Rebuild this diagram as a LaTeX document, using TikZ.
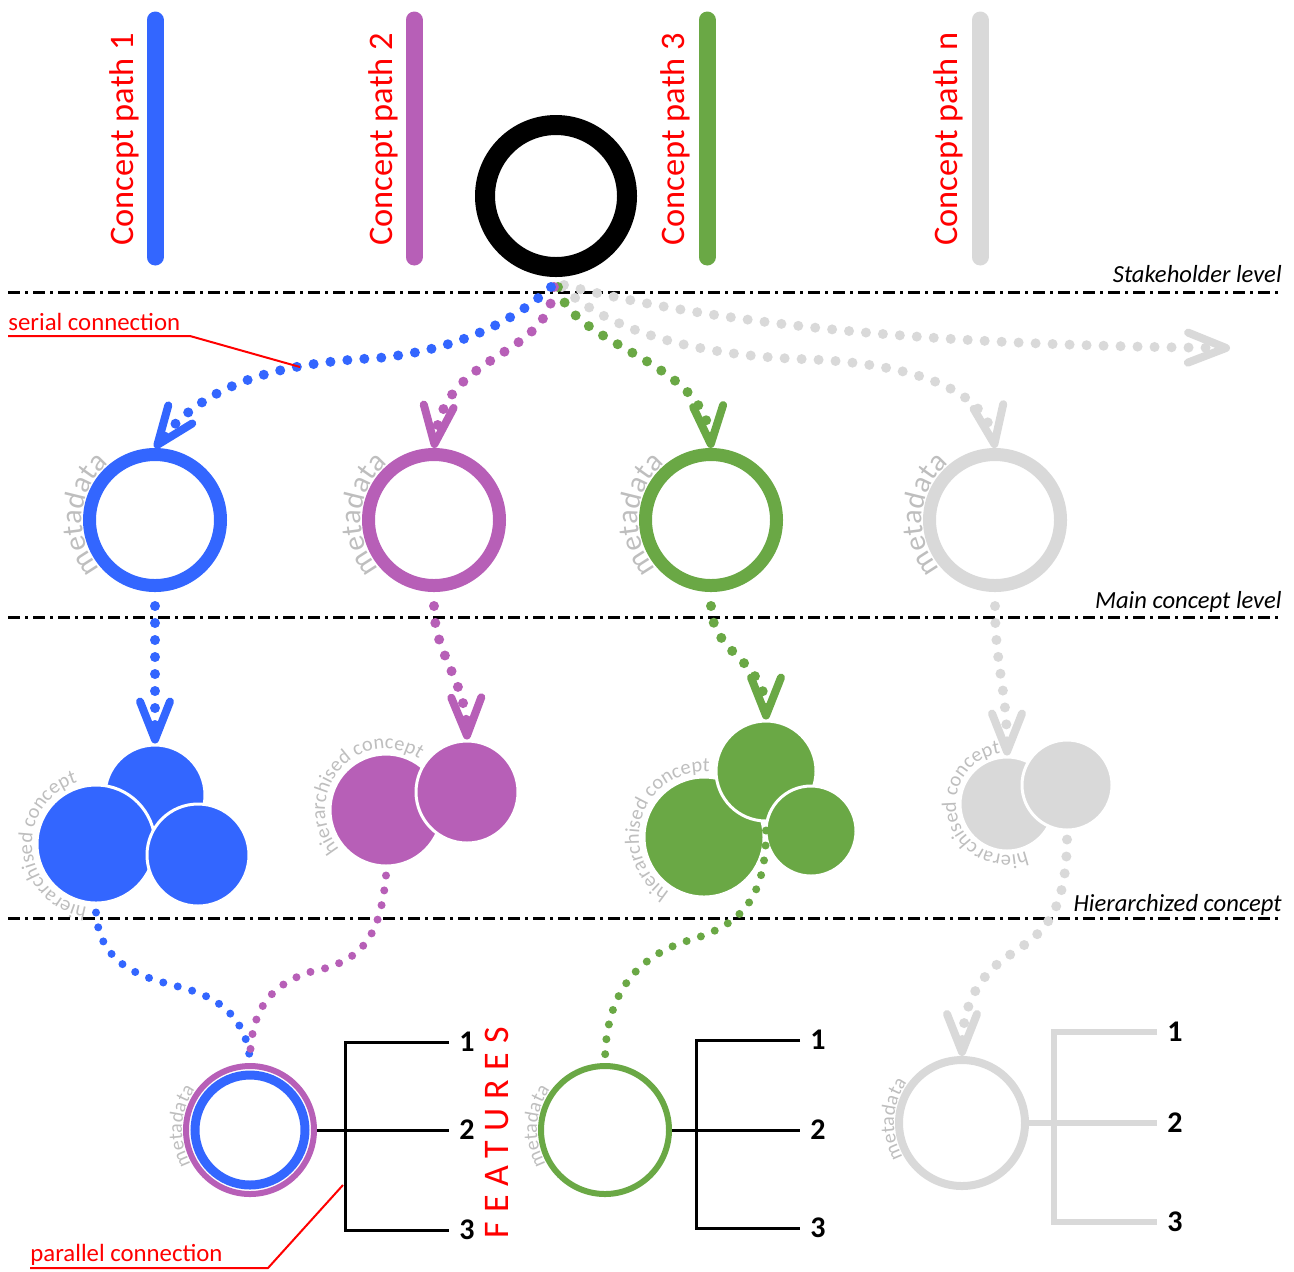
\documentclass[tikz,border=0pt]{standalone}
\usepackage{fontspec}
\setmainfont{Carlito}
\usetikzlibrary{arrows.meta,decorations.text,backgrounds}

\definecolor{cblue}{RGB}{51,102,255}
\definecolor{cpurple}{RGB}{183,95,183}
\definecolor{cgreen}{RGB}{106,168,69}
\definecolor{cgray}{RGB}{217,217,217}
\definecolor{lblgray}{RGB}{190,190,190}
\definecolor{cred}{RGB}{255,0,0}

\begin{document}
\begin{tikzpicture}[x=0.5pt,y=-0.5pt,
  bar/.style={line width=8.5pt,line cap=round},
  pathlabel/.style={rotate=90,anchor=base west,inner sep=0pt,text=cred,
    font=\fontsize{17.2}{20}\selectfont},
  levelline/.style={line width=1.5pt,dash pattern=on 6pt off 2.5pt on 1.5pt off 2.5pt},
  levellabel/.style={anchor=base east,inner sep=0pt,font=\itshape\fontsize{12.3}{15}\selectfont},
  mring/.style={circle,inner sep=0pt,line width=6.5pt,minimum size=65.5pt},
  fring/.style={circle,inner sep=0pt},
  blob/.style={circle,inner sep=0pt,draw=white,line width=1.5pt},
  dots/.style={line width=5pt,line cap=round,dash pattern=on 0pt off 8.5pt},
  sdots/.style={line width=4pt,line cap=round,dash pattern=on 0pt off 7.5pt},
  vtip/.style={-{Straight Barb[length=19pt,width=15pt,line width=4pt,round]}},
  meta/.style={decorate,decoration={text along path,text align=left,
    text={|\color{lblgray}\fontsize{15}{18}\selectfont|metadata}}},
  smeta/.style={decorate,decoration={text along path,text align=left,
    text={|\color{lblgray}\fontsize{10}{12}\selectfont|metadata}}},
  hier/.style={decorate,decoration={text along path,text align=left,
    text={|\color{lblgray}\fontsize{10.2}{12}\selectfont|hierarchised concept}}},
  bracket/.style={line width=1.5pt},
  num/.style={font=\bfseries\fontsize{15}{18}\selectfont,inner sep=5pt,anchor=west},
  redlbl/.style={text=cred,font=\fontsize{12.4}{15}\selectfont,inner sep=0pt,anchor=base west},
  redline/.style={cred,line width=1pt},
]
\useasboundingbox (0,0) rectangle (1294,1271);

% concept path bars and their labels
\draw[bar,cblue]   (155,20) -- (155,257);
\draw[bar,cpurple] (414,20) -- (414,257);
\draw[bar,cgreen]  (707,20) -- (707,257);
\draw[bar,cgray]   (980,20) -- (980,257);
\node[pathlabel] (lbl1) at (133,246) {Concept path 1};
\node[pathlabel] (lbl2) at (392,246) {Concept path 2};
\node[pathlabel] (lbl3) at (684,246) {Concept path 3};
\node[pathlabel] (lbln) at (957,246) {Concept path n};

% stakeholder
\node[circle,draw=black,line width=10pt,minimum size=71pt,inner sep=0pt] (stake) at (556,196) {};

% level separators
\draw[levelline] (8,292) -- (1282,292);
\draw[levelline] (8,617) -- (1282,617);
\draw[levelline] (8,918) -- (1282,918);
\node[levellabel] (lvl1) at (1282,282) {Stakeholder level};
\node[levellabel] (lvl2) at (1282,608) {Main concept level};
\node[levellabel] (lvl3) at (1282,911) {Hierarchized concept};

% main concepts
\node[mring,draw=cblue]   (m1) at (155,520) {};
\node[mring,draw=cpurple] (m2) at (434,520) {};
\node[mring,draw=cgreen]  (m3) at (711,520) {};
\node[mring,draw=cgray]   (m4) at (995,520) {};
\coordinate (cont) at (1230,348);

% serial connections from the stakeholder
\draw[dots,vtip,cgray] ([xshift=4pt,yshift=-4pt]stake.south)
  .. controls (700,320) and (900,345) .. (cont);
\draw[dots,vtip,cgray] ([xshift=3pt,yshift=-5pt]stake.south)
  .. controls (620,340) and (720,356) .. (800,359)
  .. controls (900,362) and (985,385) .. (m4.north);
\draw[dots,vtip,cgreen] ([xshift=1pt,yshift=-5pt]stake.south)
  .. controls (570,345) and (705,360) .. (m3.north);
\draw[dots,vtip,cpurple] ([xshift=-1pt,yshift=-5pt]stake.south)
  .. controls (548,360) and (445,350) .. (m2.north);
\draw[dots,vtip,cblue] ([xshift=-2.5pt,yshift=-5pt]stake.south)
  .. controls (505,330) and (440,352) .. (378,358)
  .. controls (300,362) and (210,375) .. (m1.north);

% hierarchised concepts
\node[blob,fill=cblue,minimum size=50pt] (hb1) at (155,795) {};
\node[blob,fill=cblue,minimum size=59pt] (hb2) at (96,844) {};
\node[blob,fill=cblue,minimum size=51pt] (hb3) at (198,855) {};
\node[blob,fill=cpurple,minimum size=56pt] (hp1) at (386,810) {};
\node[blob,fill=cpurple,minimum size=51pt] (hp2) at (467,792) {};
\node[blob,fill=cgreen,minimum size=60pt] (hg1) at (704,837) {};
\node[blob,fill=cgreen,minimum size=50pt] (hg2) at (766,771) {};
\node[blob,fill=cgreen,minimum size=45pt] (hg3) at (811,831) {};
\node[blob,fill=cgray,minimum size=47pt] (hx1) at (1007,804) {};
\node[blob,fill=cgray,minimum size=45pt] (hx2) at (1067,785) {};

% main concept to hierarchised concept
\draw[dots,vtip,cblue] ([yshift=-7pt]m1.south) -- (hb1.north);
\draw[dots,vtip,cpurple] ([yshift=-7pt]m2.south)
  .. controls (434,655) and (466,680) .. (hp2.north);
\draw[dots,vtip,cgreen] ([yshift=-7pt]m3.south)
  .. controls (712,655) and (766,660) .. (hg2.north);
\draw[dots,vtip,cgray] ([yshift=-7pt]m4.south)
  .. controls (995,665) and (1007,690) .. (hx1.north);

% feature level concepts
\node[fring,draw=cpurple,line width=3pt,minimum size=64pt] (f12p) at (250,1130) {};
\node[fring,draw=cblue,line width=4.5pt,minimum size=55pt] (f12b) at (250,1130) {};
\node[fring,draw=cgreen,line width=3pt,minimum size=64pt] (f3) at (605,1130) {};
\node[fring,draw=cgray,line width=4pt,minimum size=63pt] (f4) at (962,1123) {};

% parallel connections
\draw[sdots,cblue] ([yshift=-4pt]hb2.south)
  .. controls (100,975) and (160,980) .. (190,990)
  .. controls (230,1002) and (249,1030) .. (f12p.north);
\draw[sdots,cpurple] ([yshift=-4pt]hp1.south)
  .. controls (380,940) and (360,962) .. (310,972)
  .. controls (270,985) and (250,1010) .. (f12p.north);
\draw[sdots,cgreen] ([yshift=-4pt]hg2.south)
  .. controls (766,900) and (740,925) .. (690,940)
  .. controls (640,955) and (605,990) .. (f3.north);
\draw[dots,vtip,cgray] ([yshift=-4pt]hx2.south)
  .. controls (1066,920) and (1040,935) .. (1005,958)
  .. controls (975,980) and (962,1010) .. (f4.north);

% curved labels kept behind the shapes
\begin{scope}[on background layer]
  \path[hier] (hb2.center) ++(-262:64) arc[start angle=-262,end angle=-50,radius=64];
  \path[hier] (hp1.center) ++(-220:61) arc[start angle=-220,end angle=-10,radius=61];
  \path[hier] (hg1.center) ++(-238:65) arc[start angle=-238,end angle=-30,radius=65];
  \path[hier] (hx1.center) ++(-292:51) arc[start angle=-292,end angle=-40,radius=51];
  \path[meta] (m1.center) ++(-222:73) arc[start angle=-222,end angle=-100,radius=73];
  \path[meta] (m2.center) ++(-222:73) arc[start angle=-222,end angle=-100,radius=73];
  \path[meta] (m3.center) ++(-222:73) arc[start angle=-222,end angle=-100,radius=73];
  \path[meta] (m4.center) ++(-222:73) arc[start angle=-222,end angle=-100,radius=73];
  \path[smeta] (f12p.center) ++(-210:68) arc[start angle=-210,end angle=-120,radius=68];
  \path[smeta] (f3.center) ++(-210:68) arc[start angle=-210,end angle=-120,radius=68];
  \path[smeta] (f4.center) ++(-210:68) arc[start angle=-210,end angle=-120,radius=68];
\end{scope}

% features
\node[num] (p1) at (449,1042) {1};
\node[num] (p2) at (449,1130) {2};
\node[num] (p3) at (449,1230) {3};
\draw[bracket] (p1.west) -- (345,1042) -- (345,1230) -- (p3.west);
\draw[bracket] (f12p.east) -- (f12p.east -| p2.west);

\node[num] (g1) at (800,1040) {1};
\node[num] (g2) at (800,1130) {2};
\node[num] (g3) at (800,1228) {3};
\draw[bracket] (g1.west) -- (696,1040) -- (696,1228) -- (g3.west);
\draw[bracket] (f3.east) -- (f3.east -| g2.west);

\node[num] (x1) at (1157,1032) {1};
\node[num] (x2) at (1157,1123) {2};
\node[num] (x3) at (1157,1222) {3};
\draw[bracket,cgray,line width=3pt] (x1.west) -- (1054,1032) -- (1054,1222) -- (x3.west);
\draw[bracket,cgray,line width=3pt] (f4.east) -- (f4.east -| x2.west);

\node[rotate=90,text=cred,inner sep=0pt,
  font=\fontsize{18}{20}\selectfont\addfontfeature{LetterSpace=26}] (feat) at (497,1133) {FEATURES};

% annotations
\node[redlbl] (serial) at (8,330) {serial connection};
\coordinate (serialpt) at (300,367);
\draw[redline] (8,336) -- (190,336) -- (serialpt);
\node[redlbl] (parallel) at (30,1261) {parallel connection};
\coordinate (parallelpt) at (343,1185);
\draw[redline] (30,1268) -- (268,1268) -- (parallelpt);
\end{tikzpicture}
\end{document}
